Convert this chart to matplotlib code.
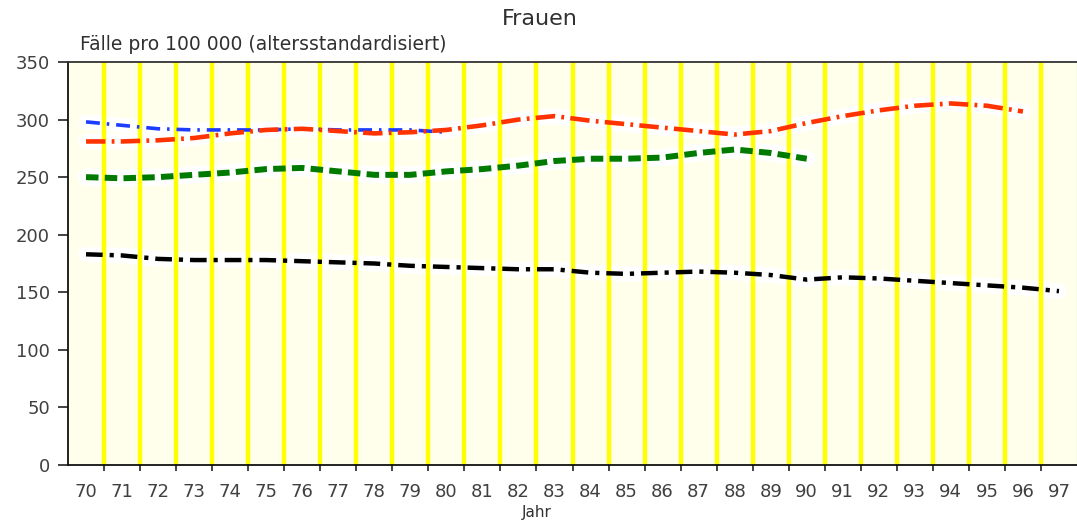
import matplotlib
matplotlib.use("Agg")
import matplotlib.pyplot as plt
import numpy as np

plt.rcParams['font.family'] = ['DejaVu Sans']
plt.rcParams['lines.scale_dashes'] = False

years = [str(y) for y in range(70, 98)]
black_vals = [183, 182, 179, 178, 178, 178, 177, 176, 175, 173, 172, 171, 170, 170,
              167, 166, 167, 168, 167, 165, 161, 163, 162, 160, 158, 156, 154, 151]
red_vals = [281, 281, 282, 284, 288, 291, 292, 290, 288, 289, 291, 295, 300, 303,
            299, 296, 293, 290, 287, 290, 297, 303, 308, 312, 314, 312, 307]
blue_vals = [298, 295, 292, 291, 291, 291, 292, 291, 291, 291, 289]
green_vals = [250, 249, 250, 252, 254, 257, 258, 255, 252, 252, 255, 257, 260, 264,
              266, 266, 267, 271, 274, 271, 266]
yticks = [0, 50, 100, 150, 200, 250, 300, 350]

W, H = 1077, 521
fig = plt.figure(figsize=(W / 100, H / 100), dpi=100)
ax = fig.add_axes([68 / W, 1 - 465 / H, (1077 - 68) / W, (465 - 62) / H])
ax.set_facecolor('#FFFFEC')

n = len(years)
ax.set_xlim(-0.5, n - 0.5)
ax.set_ylim(0, 350)

# yellow vertical grid lines at category boundaries
for b in np.arange(0.5, n - 0.5, 1.0):
    ax.axvline(b, color='#FFFF00', lw=3.2, zorder=1)

series = [
    (blue_vals, '#1E3CFF', 2.6, (0, (10, 5, 1.8, 5))),
    (red_vals, '#FF3300', 3.3, (0, (14, 4.5, 2, 4.5))),
    (green_vals, '#007A00', 4.3, (0, (9, 4.5))),
    (black_vals, '#000000', 3.2, (0, (12, 5, 3, 5))),
]
for vals, col, lw, ls in series:
    x = np.arange(len(vals))
    ax.plot(x, vals, color='white', lw=lw + 8, solid_capstyle='round', zorder=0.5)
for vals, col, lw, ls in series:
    x = np.arange(len(vals))
    ax.plot(x, vals, color=col, lw=lw, linestyle=ls, dash_capstyle='butt', zorder=3)

# ticks
ax.set_yticks(yticks)
ax.set_yticklabels([str(v) for v in yticks], fontsize=13, color='#404040')
ax.tick_params(axis='y', direction='out', length=7, width=1.2, pad=6, color='#222222')

ax.set_xticks(np.arange(0.5, n - 0.5, 1.0))
ax.set_xticklabels([])
ax.tick_params(axis='x', which='major', direction='out', length=4, width=1.2, color='#222222')
ax.set_xticks(np.arange(n), minor=True)
ax.set_xticklabels(years, minor=True, fontsize=13, color='#404040')
ax.tick_params(axis='x', which='minor', length=0, pad=13)

for s in ['left', 'bottom']:
    ax.spines[s].set_color('#111111')
    ax.spines[s].set_linewidth(1.3)
ax.spines['top'].set_color('#333333')
ax.spines['top'].set_linewidth(1.3)
ax.spines['right'].set_color('#999999')

fig.text(540 / W, 1 - 19 / H, 'Frauen', ha='center', va='center', fontsize=16, color='#303030')
fig.text(80 / W, 1 - 45 / H, 'Fälle pro 100 000 (altersstandardisiert)', ha='left', va='center',
         fontsize=13.5, color='#303030')
fig.text(537 / W, 1 - 512 / H, 'Jahr', ha='center', va='center', fontsize=11, color='#303030')

fig.savefig('out.png', dpi=100)
